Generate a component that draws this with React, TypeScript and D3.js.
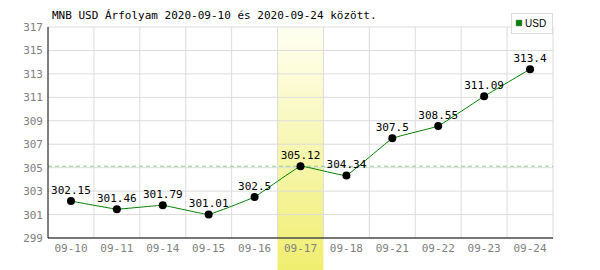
import React from "react";
import * as d3 from "d3";

const categories = ["09-10","09-11","09-14","09-15","09-16","09-17","09-18","09-21","09-22","09-23","09-24"];
const values = [302.15,301.46,301.79,301.01,302.5,305.12,304.34,307.5,308.55,311.09,313.4];
const labels = ["302.15","301.46","301.79","301.01","302.5","305.12","304.34","307.5","308.55","311.09","313.4"];
const yTicks = [299,301,303,305,307,309,311,313,315,317];
const highlightCategory = "09-17";
const referenceValue = 305.12;
const title = "MNB USD Árfolyam 2020-09-10 és 2020-09-24 között.";
const seriesName = "USD";

export default function App() {
  const W = 600, H = 270;
  const left = 48, right = 553, top = 27, bottom = 238;
  const x = d3.scaleBand<string>().domain(categories).range([left, right]).padding(0);
  const y = d3.scaleLinear().domain([299, 317]).range([bottom, top]);
  const cx = (c: string) => (x(c) as number) + x.bandwidth() / 2;
  const line = d3.line<number>().x((_, i) => cx(categories[i])).y(d => y(d)).curve(d3.curveCardinal.tension(0.8));
  const mono = "'DejaVu Sans Mono', monospace";
  return (
    <svg width={W} height={H} style={{ position: "absolute", left: 0, top: 0, background: "#fff" }}>
      <defs>
        <linearGradient id="hl" x1="0" y1="0" x2="0" y2="1">
          <stop offset="0" stopColor="#fffff2" />
          <stop offset="1" stopColor="#f0ee70" />
        </linearGradient>
      </defs>
      <rect x={0} y={0} width={W} height={H} fill="#fff" />
      <rect x={x(highlightCategory)} y={top} width={x.bandwidth()} height={H - top} fill="url(#hl)" />
      {yTicks.map(t => (
        <line key={"gy" + t} x1={left} x2={right} y1={y(t)} y2={y(t)} stroke="#dcdcdc" strokeWidth={1} />
      ))}
      {categories.slice(1).map(c => (
        <line key={"gx" + c} x1={x(c)} x2={x(c)} y1={top} y2={bottom} stroke="#dcdcdc" strokeWidth={1} />
      ))}
      <line x1={right} x2={right} y1={top} y2={bottom} stroke="#dcdcdc" />
      <line x1={left} x2={right} y1={y(referenceValue)} y2={y(referenceValue)} stroke="#90d090" strokeDasharray="4,3" />
      <line x1={left} x2={left} y1={top} y2={bottom} stroke="#000" />
      <line x1={left} x2={right} y1={bottom} y2={bottom} stroke="#000" />
      {yTicks.map(t => (
        <text key={"ty" + t} x={left - 5} y={y(t) + 4} textAnchor="end" fontFamily={mono} fontSize={11} fill="#808080">{t}</text>
      ))}
      {categories.map(c => (
        <text key={"tx" + c} x={cx(c)} y={bottom + 14} textAnchor="middle" fontFamily={mono} fontSize={11} fill="#808080">{c}</text>
      ))}
      <path d={line(values) || ""} fill="none" stroke="#008000" strokeWidth={1} />
      {values.map((v, i) => (
        <circle key={"p" + i} cx={cx(categories[i])} cy={y(v)} r={4} fill="#000" />
      ))}
      {values.map((v, i) => (
        <text key={"l" + i} x={cx(categories[i])} y={y(v) - 7} textAnchor="middle" fontFamily={mono} fontSize={11} fill="#000">{labels[i]}</text>
      ))}
      <text x={52} y={19} fontFamily={mono} fontSize={11} fill="#000">{title}</text>
      <rect x={511.5} y={13.5} width={41} height={20} fill="#fff" stroke="#dcdcdc" />
      <rect x={516} y={20} width={6} height={6} fill="#008000" stroke="#888" strokeWidth={0.5} />
      <text x={525} y={27} fontFamily="'Liberation Sans', Arial, sans-serif" fontSize={10} fill="#000">{seriesName}</text>
    </svg>
  );
}
